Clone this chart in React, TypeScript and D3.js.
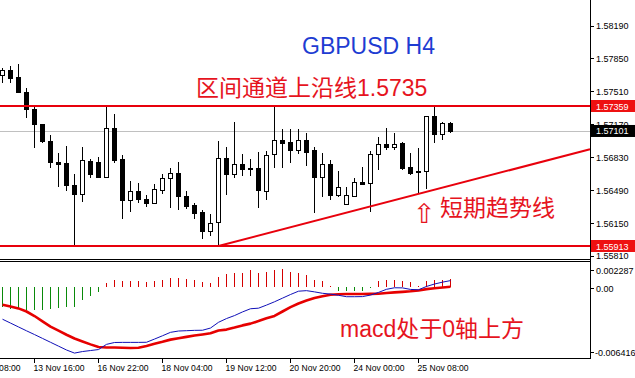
import React from "react";
import * as d3 from "d3";

// GBPUSD H4 candles (open / high / low / close)
const opens = [1.57679, 1.57731, 1.57656, 1.57501, 1.57328, 1.5717, 1.56997, 1.56777, 1.56767, 1.56543, 1.56447, 1.56791, 1.56784, 1.56629, 1.57129, 1.56812, 1.56388, 1.56481, 1.56398, 1.5636, 1.56491, 1.56612, 1.56664, 1.56429, 1.56336, 1.56267, 1.56071, 1.56161, 1.56819, 1.56654, 1.5676, 1.56722, 1.56715, 1.56481, 1.5686, 1.57008, 1.5699, 1.56905, 1.57008, 1.56905, 1.56629, 1.5676, 1.5644, 1.56344, 1.56429, 1.56577, 1.56561, 1.5686, 1.56966, 1.56939, 1.56974, 1.56726, 1.56688, 1.56688, 1.57256, 1.57067, 1.5718];
const highs = [1.57755, 1.57772, 1.5779, 1.57542, 1.57362, 1.57175, 1.57059, 1.5687, 1.56949, 1.56657, 1.56939, 1.56812, 1.56835, 1.57352, 1.57273, 1.56853, 1.56584, 1.56561, 1.5644, 1.5655, 1.56654, 1.56715, 1.56777, 1.56481, 1.5636, 1.56285, 1.5624, 1.56997, 1.56935, 1.57191, 1.56863, 1.56808, 1.56887, 1.56894, 1.57354, 1.57118, 1.57118, 1.57118, 1.57083, 1.56939, 1.5687, 1.56801, 1.56688, 1.56525, 1.56612, 1.56726, 1.56897, 1.57042, 1.57129, 1.57077, 1.5699, 1.5687, 1.56928, 1.57256, 1.57352, 1.57197, 1.57197];
const lows = [1.57597, 1.57597, 1.5749, 1.57232, 1.56922, 1.56974, 1.56722, 1.56525, 1.56484, 1.55913, 1.56364, 1.56612, 1.56612, 1.56615, 1.56767, 1.56189, 1.56267, 1.56354, 1.56319, 1.56354, 1.56447, 1.56302, 1.56285, 1.56292, 1.56189, 1.55982, 1.56019, 1.55913, 1.5644, 1.56615, 1.56636, 1.56636, 1.56302, 1.56388, 1.56722, 1.56722, 1.56773, 1.56863, 1.56739, 1.56251, 1.56416, 1.56388, 1.56422, 1.56336, 1.56416, 1.56543, 1.56267, 1.56698, 1.56905, 1.56905, 1.56698, 1.56646, 1.56463, 1.56499, 1.5698, 1.57008, 1.57077];
const closes = [1.57731, 1.57651, 1.57507, 1.57328, 1.5717, 1.56997, 1.56777, 1.56763, 1.56543, 1.56447, 1.56798, 1.5666, 1.56629, 1.57129, 1.56801, 1.56388, 1.56481, 1.56395, 1.5636, 1.56499, 1.56612, 1.56664, 1.56429, 1.56329, 1.56257, 1.56071, 1.56154, 1.56819, 1.56654, 1.56757, 1.56705, 1.56705, 1.56491, 1.56853, 1.57008, 1.5698, 1.56905, 1.57008, 1.56887, 1.56629, 1.5676, 1.5644, 1.56519, 1.56435, 1.56571, 1.56553, 1.5686, 1.56963, 1.56939, 1.56966, 1.56715, 1.5667, 1.56674, 1.57256, 1.57067, 1.5718, 1.57101];

// MACD main line, signal line and histogram
const macdLine = [-0.0029, -0.00325, -0.0036, -0.00395, -0.00429, -0.00464, -0.00499, -0.00534, -0.00569, -0.00597, -0.00583, -0.00574, -0.00565, -0.00518, -0.00501, -0.005, -0.005, -0.005, -0.00499, -0.0047, -0.0044, -0.00409, -0.00397, -0.00394, -0.00391, -0.0039, -0.0037, -0.00318, -0.00284, -0.00257, -0.00224, -0.00195, -0.0019, -0.00162, -0.00132, -0.00099, -0.00066, -0.00036, -0.00031, -0.00042, -0.00055, -0.00062, -0.00073, -0.00086, -0.00086, -0.00085, -0.00071, -0.00047, -0.00019, -0.00005, -0.00006, -0.0002, -0.00023, 0.00007, 0.00029, 0.00046, 0.0006];
const signalLine = [-0.00158, -0.00175, -0.00192, -0.0022, -0.00261, -0.00309, -0.00357, -0.00394, -0.00431, -0.00465, -0.00492, -0.00518, -0.00542, -0.00546, -0.00547, -0.00549, -0.00551, -0.00548, -0.00532, -0.00513, -0.00495, -0.00475, -0.00462, -0.0045, -0.00438, -0.00428, -0.00418, -0.00393, -0.00384, -0.00366, -0.00346, -0.0033, -0.00307, -0.00282, -0.0026, -0.0022, -0.0018, -0.00147, -0.0012, -0.00097, -0.00081, -0.00068, -0.00063, -0.00062, -0.00062, -0.00061, -0.0006, -0.00059, -0.00053, -0.00047, -0.00042, -0.00037, -0.00029, -0.00017, -0.0001, -0.00002, 0.00005];
const histogram = [-0.00181, -0.00197, -0.00197, -0.00206, -0.00206, -0.00202, -0.00197, -0.00188, -0.00181, -0.00175, -0.00115, -0.00082, -0.00039, 0.00036, 0.00066, 0.00052, 0.00052, 0.00052, 0.00043, 0.00057, 0.00066, 0.00088, 0.00082, 0.00073, 0.00066, 0.00043, 0.00036, 0.00091, 0.00121, 0.00133, 0.00127, 0.00157, 0.00133, 0.00142, 0.00157, 0.00163, 0.00142, 0.00133, 0.00112, 0.00066, 0.00057, 0.00012, -0.0003, -0.0003, -0.0003, -0.0003, -0.00009, 0.00052, 0.00066, 0.00066, 0.00052, 0.00043, 0.00009, 0.00052, 0.00066, 0.00066, 0.00073];

// Axis labels
const priceTicks = [1.5819, 1.5785, 1.5751, 1.5717, 1.5683, 1.5649, 1.5615, 1.5581];
const macdTicks = [0.002287, 0, -0.006416];
const macdTickText = ["0.002287", "0.00", "-0.006416"];
const timeLabels = ["12 Nov 08:00", "13 Nov 16:00", "16 Nov 22:00", "18 Nov 04:00", "19 Nov 12:00", "20 Nov 20:00", "24 Nov 00:00", "25 Nov 08:00"];
const timeLabelBars = [-4, 4, 12, 20, 28, 36, 44, 52];

// Drawn levels
const resistance = 1.57359;
const support = 1.55913;
const trendBars = [27, 52];
const trendPrices = [1.55913, 1.56451];

const W = 635;
const H = 378;
const AXIS_X = 590;
const RED = "#e6141e";
const LINE_RED = "#e8000c";
const AXIS_FONT = "'Liberation Sans', Arial, sans-serif";
const LABEL_FONT = "'Liberation Sans', Arial, 'Noto Sans CJK SC', sans-serif";

export default function App() {
  const n = closes.length;
  const x = d3.scaleLinear().domain([0, n - 1]).range([2.5, 2.5 + 8 * (n - 1)]);
  const y = d3.scaleLinear().domain([support, resistance]).range([246, 106]);
  const ym = d3.scaleLinear().domain([macdTicks[2], macdTicks[0]]).range([358, 262]);

  const last = closes[n - 1];
  const crisp = (v: number) => Math.round(v) + 0.5;

  // trend line extended to the price axis
  const slope = (trendPrices[1] - trendPrices[0]) / (trendBars[1] - trendBars[0]);
  const endBar = x.invert(AXIS_X);
  const endPrice = trendPrices[0] + slope * (endBar - trendBars[0]);

  const lineGen = d3
    .line<number>()
    .x((_, i) => x(i))
    .y((d) => ym(d));

  const idx = d3.range(n);

  return (
    <svg
      width={W}
      height={H}
      style={{ position: "absolute", left: 0, top: 0, background: "#fff" }}
      fontFamily={AXIS_FONT}
    >
      <defs>
        <clipPath id="mainClip">
          <rect x={0} y={0} width={W} height={259} />
        </clipPath>
        <clipPath id="plotClip">
          <rect x={0} y={0} width={AXIS_X} height={259} />
        </clipPath>
      </defs>
      <rect x={0} y={0} width={W} height={H} fill="#fff" />

      {/* current price line */}
      <line x1={0} x2={AXIS_X} y1={crisp(y(last))} y2={crisp(y(last))} stroke="#c0c0c0" strokeWidth={1} />

      {/* candles */}
      <g clipPath="url(#plotClip)">
        {idx.map((i) => {
          const cx = x(i);
          const o = y(opens[i]);
          const c = y(closes[i]);
          const top = Math.round(Math.min(o, c)) + 0.5;
          const bot = Math.round(Math.max(o, c)) + 0.5;
          const bull = closes[i] >= opens[i];
          return (
            <g key={i}>
              <line x1={cx} x2={cx} y1={Math.round(y(highs[i]))} y2={Math.round(y(lows[i]))} stroke="#000" strokeWidth={1} />
              {bot - top < 1 ? (
                <line x1={cx - 2.5} x2={cx + 2.5} y1={top} y2={top} stroke="#000" strokeWidth={1} />
              ) : (
                <rect
                  x={cx - 2}
                  y={top}
                  width={4}
                  height={bot - top}
                  fill={bull ? "#fff" : "#000"}
                  stroke="#000"
                  strokeWidth={1}
                />
              )}
            </g>
          );
        })}
      </g>

      {/* channel lines */}
      <line x1={0} x2={AXIS_X} y1={y(resistance)} y2={y(resistance)} stroke={LINE_RED} strokeWidth={2} />
      <line x1={0} x2={AXIS_X} y1={y(support)} y2={y(support)} stroke={LINE_RED} strokeWidth={2} />
      <line
        x1={x(trendBars[0])}
        y1={y(trendPrices[0])}
        x2={AXIS_X}
        y2={y(endPrice)}
        stroke={LINE_RED}
        strokeWidth={2}
      />

      {/* annotations */}
      <text x={302} y={54} fontSize={23} fill="#1e3cd2" fontFamily={AXIS_FONT}>
        GBPUSD H4
      </text>
      <text x={196} y={96} fontSize={23} fill={RED} fontFamily={LABEL_FONT}>
        区间通道上沿线1.5735
      </text>
      <text x={413} y={223} fontSize={27} fill={RED} fontFamily="'DejaVu Sans', sans-serif">
        ⇧
      </text>
      <text x={440} y={216} fontSize={23} fill={RED} fontFamily={LABEL_FONT}>
        短期趋势线
      </text>

      {/* price axis */}
      <g clipPath="url(#mainClip)">
        {priceTicks.map((p) => (
          <g key={p}>
            <line x1={AXIS_X} x2={AXIS_X + 4} y1={crisp(y(p))} y2={crisp(y(p))} stroke="#000" />
            <text x={596} y={y(p) + 3.5} fontSize={9} fill="#000">
              {p.toFixed(5)}
            </text>
          </g>
        ))}
        {[resistance, support].map((p) => (
          <g key={p}>
            <rect x={AXIS_X + 1} y={y(p) - 6} width={W - AXIS_X} height={12} fill="#ee1111" />
            <text x={596} y={y(p) + 3.5} fontSize={9} fill="#fff">
              {p.toFixed(5)}
            </text>
          </g>
        ))}
        <rect x={AXIS_X + 1} y={y(last) - 6} width={W - AXIS_X} height={12} fill="#000" />
        <text x={596} y={y(last) + 3.5} fontSize={9} fill="#fff">
          {last.toFixed(5)}
        </text>
      </g>

      {/* panel frames */}
      <line x1={0} x2={AXIS_X} y1={259.5} y2={259.5} stroke="#000" />
      <line x1={0} x2={AXIS_X} y1={261.5} y2={261.5} stroke="#000" />
      <line x1={AXIS_X + 0.5} x2={AXIS_X + 0.5} y1={0} y2={359} stroke="#000" />
      <line x1={0} x2={AXIS_X + 1} y1={358.5} y2={358.5} stroke="#000" />

      {/* MACD histogram */}
      {idx.map((i) => (
        <line
          key={i}
          x1={x(i)}
          x2={x(i)}
          y1={Math.round(ym(0))}
          y2={Math.round(ym(histogram[i]))}
          stroke={histogram[i] < 0 ? "#0a8a0a" : "#d40000"}
          strokeWidth={1}
        />
      ))}
      <path d={lineGen(signalLine) || ""} fill="none" stroke="#e60000" strokeWidth={2.6} strokeLinejoin="round" />
      <path d={lineGen(macdLine) || ""} fill="none" stroke="#1010b8" strokeWidth={1} />

      <text x={340} y={337} fontSize={23} fill={RED} fontFamily={LABEL_FONT}>
        macd处于0轴上方
      </text>

      {/* MACD axis */}
      {macdTicks.map((v, k) => {
        const ty = k === 0 ? ym(v) + 8 : k === 1 ? ym(v) + 1 : ym(v) - 6;
        return (
          <g key={v}>
            <line x1={AXIS_X} x2={AXIS_X + 4} y1={crisp(ty)} y2={crisp(ty)} stroke="#000" />
            <text x={k === 2 ? 595 : 596} y={ty + 3.5} fontSize={9} fill="#000">
              {macdTickText[k]}
            </text>
          </g>
        );
      })}

      {/* time axis */}
      {timeLabels.map((t, k) => {
        const tx = x(timeLabelBars[k]);
        return (
          <g key={t}>
            <line x1={tx} x2={tx} y1={359} y2={363} stroke="#000" />
            <text x={tx - 1} y={371} fontSize={8.6} fill="#000">
              {t}
            </text>
          </g>
        );
      })}
    </svg>
  );
}
